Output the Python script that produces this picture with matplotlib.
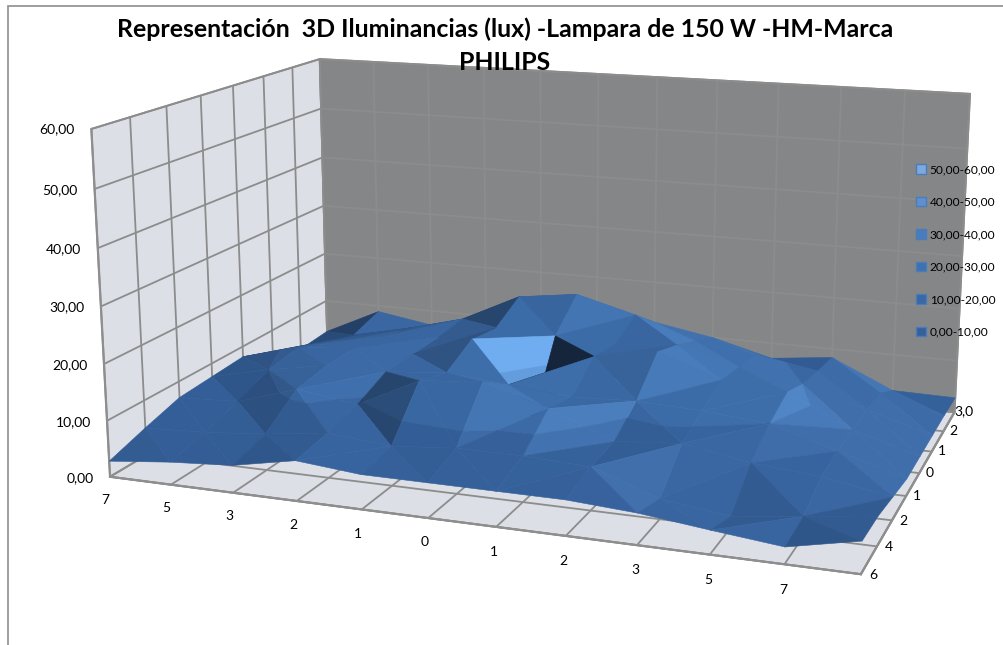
import numpy as np
import matplotlib
matplotlib.use("Agg")
import matplotlib.pyplot as plt
from matplotlib.patches import Patch, Rectangle
from mpl_toolkits.mplot3d.art3d import Poly3DCollection

plt.rcParams['font.family'] = ['Lato', 'DejaVu Sans']
x_labels = ['7','5','3','2','1','0','1','2','3','5','7','']
y_labels = ['6','4','2','1','0','1','2','3,0']
z_labels = ['0,00','10,00','20,00','30,00','40,00','50,00','60,00']
legend_labels = ['50,00-60,00','40,00-50,00','30,00-40,00','20,00-30,00','10,00-20,00','0,00-10,00']
legend_colors = ['#7fa8dc','#5f8fce','#4a7cbd','#3f70b0','#3a68a6','#35609a']
band_colors = ['#35609a','#3b6aa6','#4576b5']
band_levels = [10.0,20.0]
Z = np.array([
 [2.8,4,4.8,7,6,6,6,6,5.3,4,2.8,5.3],
 [5,5.5,6.5,8,7,8,8,7.5,3.5,2,3.5,5],
 [7,7.5,11,9.5,15,16,12.5,8,9,7,6,4],
 [7.5,10,12,12,13,12,11,11.5,11,10,6.5,3],
 [8,11,12,12,16,2,15,17,13,12,6.5,3],
 [5,9,11,12,15,14.5,14,15,12,10,6.5,3],
 [3,7,9.5,12.5,18,19.5,16.5,12.5,11,9,6,3],
 [3.5,8.8,7,9,11,13,12,10,7,8.3,3,2.8]])
W,H=1004,645
elev,azim,focal,ba,bb,s,cx,cy=14.1198,-70.1877,0.42601,2.15548,1.41703,4973.78,551.86,280.04
fig=plt.figure(figsize=(W/100,H/100),dpi=100)
ax=fig.add_axes([0,0,1,1],projection='3d')
ax.set_xlim(0,11,view_margin=0);ax.set_ylim(0,7,view_margin=0);ax.set_zlim(0,60,view_margin=0)
ax.view_init(elev,azim,0); ax.set_box_aspect((ba,bb,1),zoom=1); ax.set_proj_type('persp',focal_length=focal)
vl=ax.viewLim
l=cx+s*vl.x0; r_=cx+s*vl.x1; t=cy-s*vl.y1; b=cy-s*vl.y0
ax.set_position([l/W,(H-b)/H,(r_-l)/W,(b-t)/H])

ax.set_xticks(range(12),x_labels);ax.set_yticks(range(8),y_labels);ax.set_zticks(range(0,61,10),z_labels)
ax.tick_params(labelsize=10,color=(0,0,0,0))
ax.tick_params(axis='x',pad=4);ax.tick_params(axis='y',pad=-3);ax.tick_params(axis='z',pad=-2)
ax.zaxis.set_ticks_position('lower')
for lab in ax.get_xticklabels(): lab.set_ha('left')
for lab in ax.get_yticklabels(): lab.set_va('bottom')
for lab in ax.get_zticklabels(): lab.set_ha('right'); lab.set_va('center')
ax.xaxis.set_pane_color('#dcdfe5');ax.yaxis.set_pane_color('#858687');ax.zaxis.set_pane_color('#dcdfe5')
for A_ in (ax.xaxis,ax.yaxis,ax.zaxis):
    A_._axinfo['grid'].update(color='#8c8c8c',linewidth=1.3)
    A_.line.set_color('#8e8e8e'); A_.line.set_linewidth(1.6)
    A_.pane.set_edgecolor('#8e8e8e'); A_.pane.set_linewidth(1.4)
ax.grid(True)

scale=np.array([ba/11,bb/7,1/60])
def shade(tri):
    v=tri*scale
    n=np.cross(v[1]-v[0],v[2]-v[0]); n=n/np.linalg.norm(n)
    if n[2]<0:n=-n
    c=0.9 if n[0]>0 else 3.5
    return np.exp(0.4*n[0]+c*n[0]**3)
def tint(col,sh):
    rgb=np.array(matplotlib.colors.to_rgb(col))
    gain=np.array([sh**1.3,sh,sh**0.75]) if sh>1 else np.array([sh,sh,sh])
    return tuple(np.clip(rgb*gain,0,1))
def split(poly,level):
    lo,hi=[],[]
    for p,q in zip(poly,np.roll(poly,-1,axis=0)):
        if p[2]<=level: lo.append(p)
        if p[2]>=level: hi.append(p)
        if (p[2]-level)*(q[2]-level)<0:
            m=p+(q-p)*(level-p[2])/(q[2]-p[2])
            lo.append(m);hi.append(m)
    return np.array(lo),np.array(hi)
verts=[];cols=[]
ny,nx=Z.shape
for j in range(ny-1):
    for i in range(nx-1):
        a_,b_,c_,d_=[np.array([ii,jj,Z[jj,ii]],float) for ii,jj in [(i,j),(i+1,j),(i+1,j+1),(i,j+1)]]
        tris=[(a_,b_,c_),(a_,c_,d_)] if abs(a_[2]-c_[2])<abs(b_[2]-d_[2]) else [(a_,b_,d_),(b_,c_,d_)]
        for tr in tris:
            tr=np.array(tr); sh=shade(tr); rest=tr
            for bi,lev in enumerate(band_levels+[1e9]):
                if len(rest)<3: break
                lo,rest=split(rest,lev)
                if len(lo)>=3:
                    verts.append(lo)
                    cols.append(tint(band_colors[bi],sh))
ax.add_collection3d(Poly3DCollection(verts,facecolors=cols,edgecolors=cols,linewidths=0.4))
fig.legend(handles=[Patch(facecolor=c_,edgecolor='#4a7cbd',label=t_) for c_,t_ in zip(legend_colors,legend_labels)],
   loc='upper left',bbox_to_anchor=(916/W,1-164/H),frameon=False,fontsize=8.6,handlelength=0.85,handleheight=0.85,handletextpad=0.3,labelspacing=1.8,borderpad=0,borderaxespad=0)
fig.text(505/W,1-29/H,'Representación  3D Iluminancias (lux) -Lampara de 150 W -HM-Marca',ha='center',va='center',fontsize=17.9,fontweight='bold')
fig.text(505/W,1-62/H,'PHILIPS',ha='center',va='center',fontsize=17.9,fontweight='bold')
fig.add_artist(Rectangle((8.5/W,-0.02),1.1,1.02-6/H,transform=fig.transFigure,fill=False,edgecolor='#8e8e8e',lw=1.2))
fig.savefig('out.png',dpi=100)
